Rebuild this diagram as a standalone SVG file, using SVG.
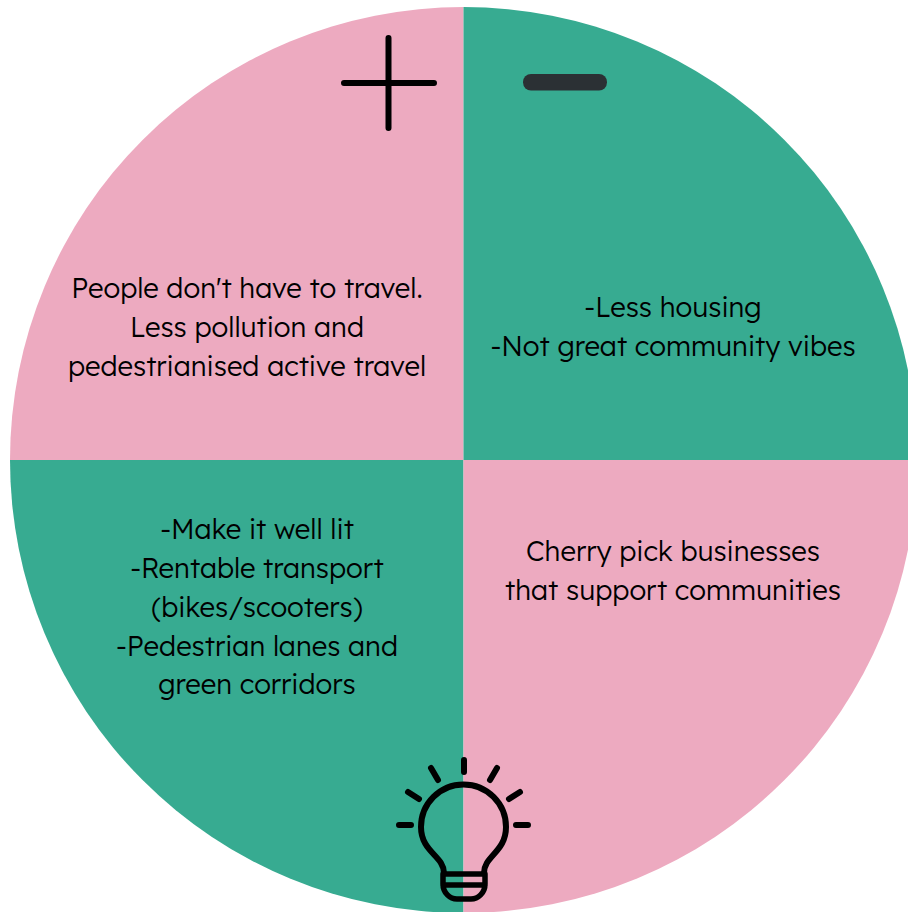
<svg xmlns="http://www.w3.org/2000/svg" width="908" height="912" viewBox="0 0 908 912">
<style>
.t{font-family:Lexend,"Noto Sans","Open Sans",sans-serif;font-size:27.500px;font-weight:300;fill:#000;text-anchor:middle}
.p{fill:#edaac0}.g{fill:#37ab91}
.i{fill:none;stroke:#000;stroke-linecap:round;stroke-linejoin:round}
</style>
<rect width="908" height="912" fill="#fff"/>
<g id="q1"><path class="p" d="M463.500 460V7A453.500 453 0 0 0 10 460Z"/><text class="t" x="247" y="298">People don't have to travel.</text><text class="t" x="247" y="337">Less pollution and</text><text class="t" x="247" y="376">pedestrianised active travel</text></g>
<g id="q2"><path class="g" d="M463.500 460V7A453.500 453 0 0 1 917 460Z"/><text class="t" x="673" y="317">-Less housing</text><text class="t" x="673" y="356">-Not great community vibes</text></g>
<g id="q3"><path class="g" d="M463.500 460V913A453.500 453 0 0 1 10 460Z"/><text class="t" x="257" y="539">-Make it well lit</text><text class="t" x="257" y="578">-Rentable transport</text><text class="t" x="257" y="617">(bikes/scooters)</text><text class="t" x="257" y="656">-Pedestrian lanes and</text><text class="t" x="257" y="694">green corridors</text></g>
<g id="q4"><path class="p" d="M463.500 460V913A453.500 453 0 0 0 917 460Z"/><text class="t" x="673" y="561">Cherry pick businesses</text><text class="t" x="673" y="600">that support communities</text></g>
<g id="plus"><path class="i" stroke-width="6" d="M388.500 38V128M344 83H434"/></g>
<g id="minus"><rect x="523" y="74" width="84" height="16.500" rx="8" fill="#2b3034"/></g>
<g id="bulb"><g class="i" stroke-width="6"><path d="M464 760V772M431 768L438 780M497 768L490 780M408 792L419 799M520 792L509 799M399 825H411M516 825H528"/><path d="M444 873C444 856 421 852 421 827A42.500 42.500 0 0 1 506 827C506 852 484 856 484 873"/><path stroke-width="5.500" d="M443 874H485V884C485 893 478 899 471 899H457C450 899 443 893 443 884ZM443 885H485"/></g></g>
</svg>
